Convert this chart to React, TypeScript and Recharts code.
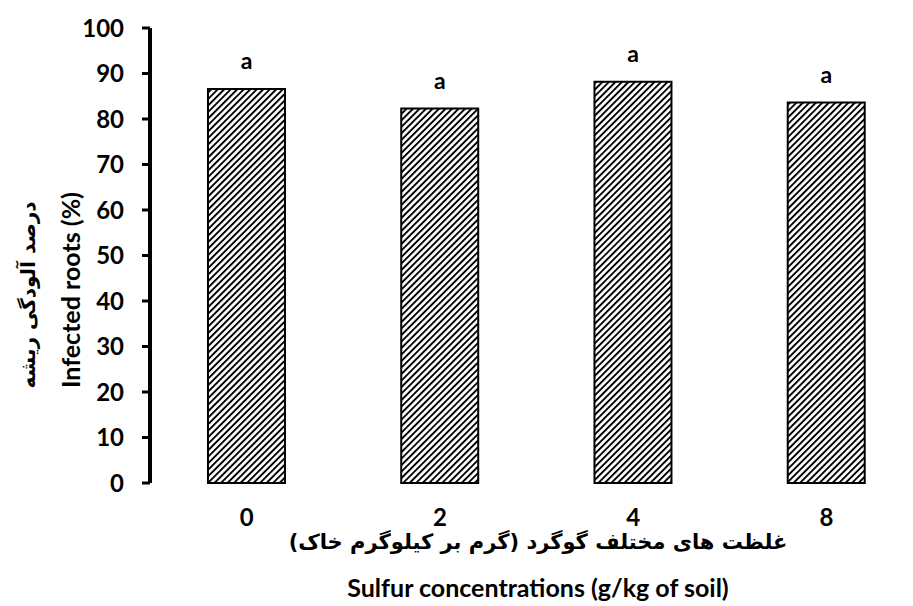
import { BarChart, Bar, XAxis, YAxis, LabelList } from 'recharts'

const categories = ['0', '2', '4', '8']
const infectedRoots = [86.6, 82.3, 88.2, 83.6]
const letters = ['a', 'a', 'a', 'a']
const yTicks = [0, 10, 20, 30, 40, 50, 60, 70, 80, 90, 100]
const boundaryTicks = [0, 1, 2, 3, 4]

const data = categories.map((c, i) => ({
  conc: c,
  infected: infectedRoots[i],
  sig: letters[i],
}))

const latin = 'Lato, "Open Sans", sans-serif'
const persian = '"DejaVu Sans", sans-serif'

export default function App() {
  return (
    <div
      style={{
        position: 'absolute',
        left: 0,
        top: 0,
        width: 913,
        height: 606,
        overflow: 'hidden',
        background: '#fff',
      }}
    >
      <svg width={0} height={0} style={{ position: 'absolute' }}>
        <defs>
          <pattern
            id="hatch"
            width={4.6}
            height={4.6}
            patternUnits="userSpaceOnUse"
            patternTransform="rotate(45)"
          >
            <rect width={4.6} height={4.6} fill="#fff" />
            <line x1={0} y1={0} x2={0} y2={4.6} stroke="#000" strokeWidth={3.8} />
          </pattern>
        </defs>
      </svg>

      <BarChart
        width={940}
        height={606}
        data={data}
        margin={{ top: 28, right: 17, bottom: 83, left: 0 }}
        barCategoryGap="30%"
      >
        {/* boundary ticks between categories, like the Excel original */}
        <XAxis
          xAxisId="edges"
          type="number"
          domain={[0, 4]}
          ticks={boundaryTicks}
          allowDataOverflow
          height={0}
          axisLine={{ stroke: '#000', strokeWidth: 4 }}
          tickLine={{ stroke: '#000', strokeWidth: 3 }}
          tickSize={8}
          tickFormatter={() => ''}
        />
        <XAxis
          xAxisId="cat"
          dataKey="conc"
          height={40}
          axisLine={false}
          tickLine={false}
          tickSize={8}
          tickMargin={18}
          tick={{ fill: '#000', fontSize: 24, fontWeight: 700, fontFamily: latin }}
        />
        <YAxis
          width={150}
          domain={[0, 100]}
          ticks={yTicks}
          interval={0}
          axisLine={{ stroke: '#000', strokeWidth: 4 }}
          tickLine={{ stroke: '#000', strokeWidth: 3 }}
          tickSize={8}
          tickMargin={18}
          tick={{ fill: '#000', fontSize: 24, fontWeight: 700, fontFamily: latin }}
        />
        <Bar
          xAxisId="cat"
          dataKey="infected"
          fill="url(#hatch)"
          stroke="#000"
          strokeWidth={2}
          isAnimationActive={false}
        >
          <LabelList
            dataKey="sig"
            position="top"
            offset={20}
            fill="#000"
            fontSize={23}
            fontWeight={700}
            fontFamily={latin}
          />
        </Bar>
      </BarChart>

      <svg
        width={913}
        height={606}
        style={{ position: 'absolute', left: 0, top: 0, pointerEvents: 'none' }}
      >
        <text
          transform="translate(28,295) rotate(-90)"
          textAnchor="middle"
          dominantBaseline="central"
          direction="rtl"
          fontFamily={persian}
          fontSize={20}
          fontWeight={700}
          fill="#000"
        >
          درصد آلودگی ریشه
        </text>
        <text
          transform="translate(70,290) rotate(-90)"
          textAnchor="middle"
          dominantBaseline="central"
          fontFamily={latin}
          fontSize={25}
          fontWeight={700}
          fill="#000"
        >
          Infected roots (%)
        </text>
        <text
          x={538}
          y={542}
          textAnchor="middle"
          dominantBaseline="central"
          direction="rtl"
          fontFamily={persian}
          fontSize={21}
          fontWeight={700}
          fill="#000"
        >
          غلظت های مختلف گوگرد (گرم بر کیلوگرم خاک)
        </text>
        <text
          x={538}
          y={587}
          textAnchor="middle"
          dominantBaseline="central"
          fontFamily={latin}
          fontSize={25}
          fontWeight={700}
          fill="#000"
        >
          Sulfur concentrations (g/kg of soil)
        </text>
      </svg>
    </div>
  )
}
